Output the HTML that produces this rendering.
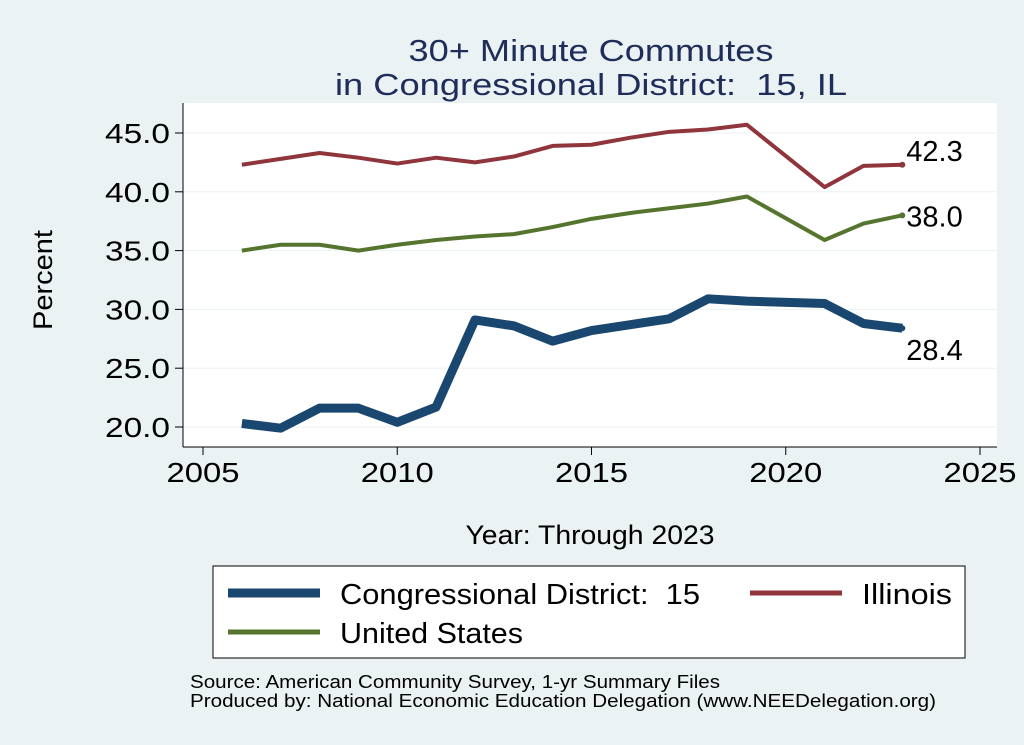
<!DOCTYPE html>
<html><head><meta charset="utf-8"><style>
body{margin:0;background:#eaf2f3;}
svg{display:block;font-family:"Liberation Sans",sans-serif;}
</style></head><body>
<svg id="c" width="1024" height="745">
<rect x="0" y="0" width="1024" height="745" fill="#eaf2f3"/>
<text x="591" y="61" font-size="31" fill="#1e2d5a" text-anchor="middle" textLength="365" lengthAdjust="spacingAndGlyphs">30+ Minute Commutes</text>
<text x="591" y="95" font-size="31" fill="#1e2d5a" text-anchor="middle" textLength="512" lengthAdjust="spacingAndGlyphs" xml:space="preserve">in Congressional District:  15, IL</text>
<rect x="183" y="103" width="814" height="344" fill="#fff"/>
<g id="grid"></g><g id="axes"></g><g id="series"></g>
<text x="52" y="280" font-size="27" text-anchor="middle" transform="rotate(-90 52 280)" textLength="100" lengthAdjust="spacingAndGlyphs">Percent</text>
<text x="590" y="544" font-size="27" text-anchor="middle" textLength="249" lengthAdjust="spacingAndGlyphs">Year: Through 2023</text>
<g>
<rect x="213" y="566" width="752" height="92" fill="#fff" stroke="#000" stroke-width="1"/>
<line x1="228" y1="593" x2="320" y2="593" stroke="#1a476f" stroke-width="9"/>
<text x="340" y="604" font-size="29" textLength="360" lengthAdjust="spacingAndGlyphs" xml:space="preserve">Congressional District:  15</text>
<line x1="750" y1="593" x2="842" y2="593" stroke="#90353b" stroke-width="5"/>
<text x="862" y="604" font-size="29" textLength="90" lengthAdjust="spacingAndGlyphs">Illinois</text>
<line x1="228" y1="632" x2="320" y2="632" stroke="#55752f" stroke-width="5"/>
<text x="340" y="643" font-size="29" textLength="183" lengthAdjust="spacingAndGlyphs">United States</text>
</g>
<text x="190" y="688" font-size="18" textLength="530" lengthAdjust="spacingAndGlyphs">Source: American Community Survey, 1-yr Summary Files</text>
<text x="190" y="707" font-size="18" textLength="746" lengthAdjust="spacingAndGlyphs">Produced by: National Economic Education Delegation (www.NEEDelegation.org)</text>
</svg>
<script>
const years=[2006,2007,2008,2009,2010,2011,2012,2013,2014,2015,2016,2017,2018,2019,2021,2022,2023];
const district=[20.3,19.9,21.6,21.6,20.4,21.7,29.1,28.6,27.3,28.2,28.7,29.2,30.9,30.7,30.5,28.8,28.4];
const illinois=[42.3,42.8,43.3,42.9,42.4,42.9,42.5,43.0,43.9,44.0,44.6,45.1,45.3,45.7,40.4,42.2,42.3];
const us=[35.0,35.5,35.5,35.0,35.5,35.9,36.2,36.4,37.0,37.7,38.2,38.6,39.0,39.6,35.9,37.3,38.0];
const xTicks=[2005,2010,2015,2020,2025];
const yTicks=[20,25,30,35,40,45];
const NS="http://www.w3.org/2000/svg";
const X=v=>203+(v-2005)*(980-203)/20;
const Y=v=>427-(v-20)*(427-133)/25;
function mk(p,t,a){const e=document.createElementNS(NS,t);for(const k in a)e.setAttribute(k,a[k]);p.appendChild(e);return e;}
const axes=document.getElementById('axes'),grid=document.getElementById('grid'),ser=document.getElementById('series');
mk(axes,'line',{x1:183,y1:103,x2:183,y2:447,stroke:'#000'});
mk(axes,'line',{x1:183,y1:447,x2:997,y2:447,stroke:'#000'});
yTicks.forEach(v=>{
const g=mk(grid,'line',{x1:183,x2:997,y1:Y(v),y2:Y(v),stroke:'#eaf2f3','stroke-width':1});


mk(axes,'line',{x1:175,x2:183,y1:Y(v),y2:Y(v),stroke:'#000'});
const t=mk(axes,'text',{x:170,y:Y(v)+10,'font-size':28,'text-anchor':'end',textLength:65,lengthAdjust:'spacingAndGlyphs'});t.textContent=v.toFixed(1);


});
xTicks.forEach(v=>{
mk(axes,'line',{x1:X(v),x2:X(v),y1:447,y2:455,stroke:'#000'});
const t=mk(axes,'text',{x:X(v),y:482,'font-size':28,'text-anchor':'middle',textLength:73,lengthAdjust:'spacingAndGlyphs'});t.textContent=v;


});
function line(vals,col,w,name,ly){
const d=vals.map((v,i)=>(i?'L':'M')+X(years[i])+','+Y(v)).join('');
const p=mk(ser,'path',{d:d,fill:'none',stroke:col,'stroke-width':w,'stroke-linejoin':'round'});


const last=vals[vals.length-1];
mk(ser,'circle',{cx:X(years[years.length-1]),cy:Y(last),r:3,fill:col});
const t=mk(ser,'text',{x:X(years[years.length-1])+4,y:Y(last)+ly,'font-size':29});t.textContent=last.toFixed(1);


}
line(us,'#55752f',4,'us',11);
line(illinois,'#90353b',4,'illinois',-4);
line(district,'#1a476f',9,'district',32);
</script>
</body></html>
